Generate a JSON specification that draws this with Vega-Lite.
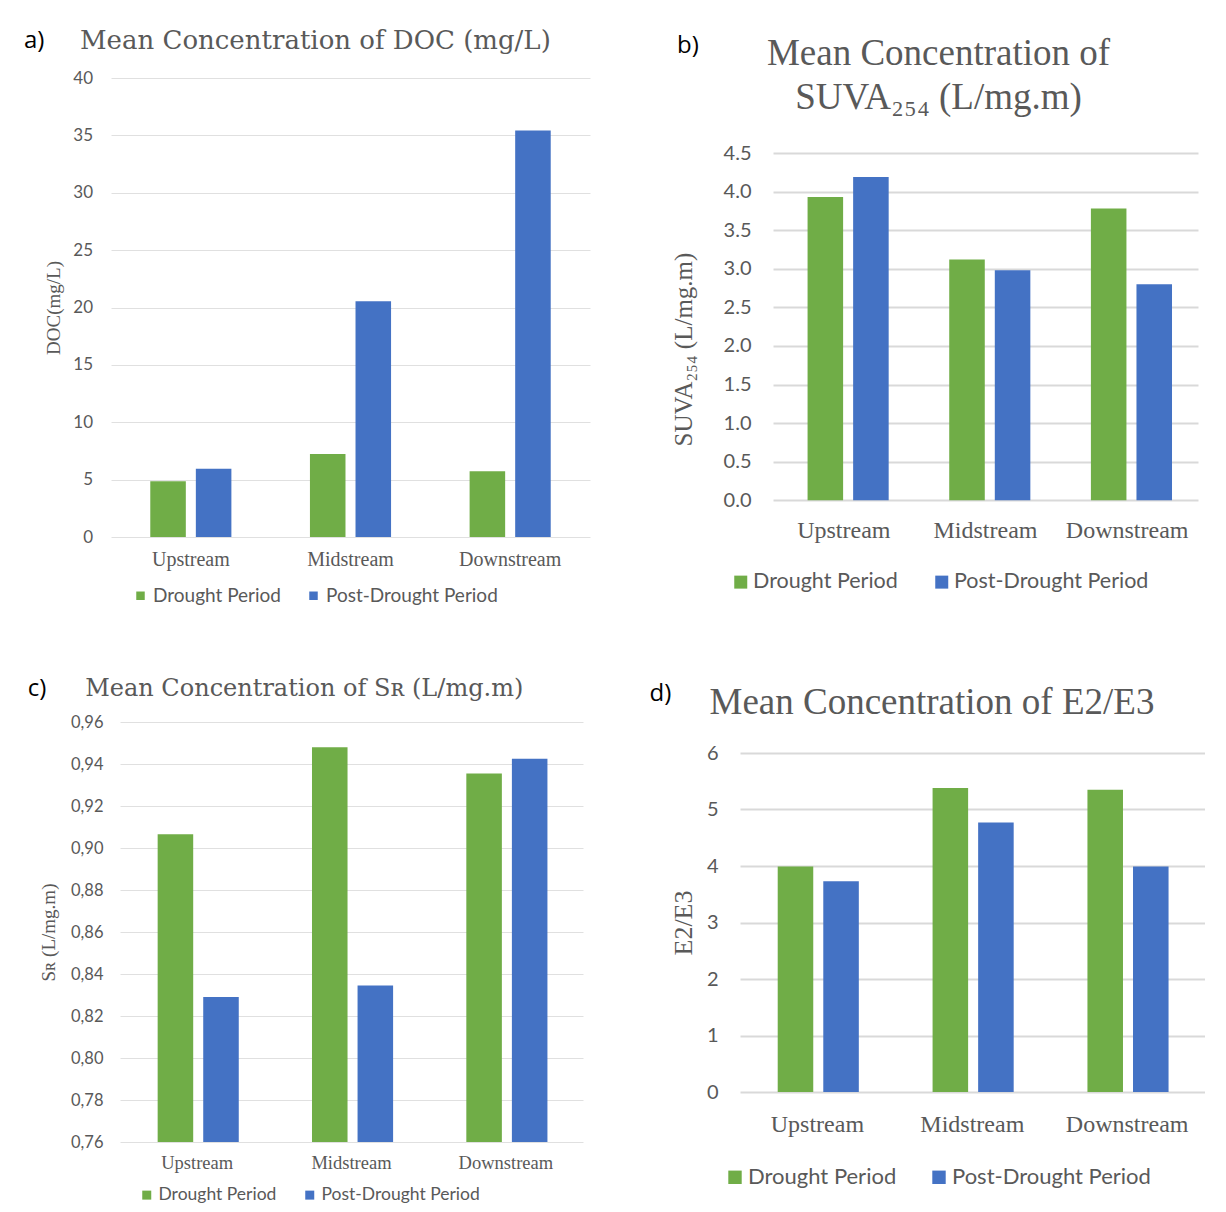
{
  "$schema": "https://vega.github.io/schema/vega-lite/v6.json",
  "background": "white",
  "padding": 0,
  "datasets": {
    "doc": [
      {"site": "Upstream", "period": "Drought Period", "value": 4.86},
      {"site": "Upstream", "period": "Post-Drought Period", "value": 5.95},
      {"site": "Midstream", "period": "Drought Period", "value": 7.24},
      {"site": "Midstream", "period": "Post-Drought Period", "value": 20.55},
      {"site": "Downstream", "period": "Drought Period", "value": 5.73},
      {"site": "Downstream", "period": "Post-Drought Period", "value": 35.42}
    ],
    "suva": [
      {"site": "Upstream", "period": "Drought Period", "value": 3.93},
      {"site": "Upstream", "period": "Post-Drought Period", "value": 4.19},
      {"site": "Midstream", "period": "Drought Period", "value": 3.12},
      {"site": "Midstream", "period": "Post-Drought Period", "value": 2.98},
      {"site": "Downstream", "period": "Drought Period", "value": 3.78},
      {"site": "Downstream", "period": "Post-Drought Period", "value": 2.80}
    ],
    "sr": [
      {"site": "Upstream", "period": "Drought Period", "value": 0.9065},
      {"site": "Upstream", "period": "Post-Drought Period", "value": 0.829},
      {"site": "Midstream", "period": "Drought Period", "value": 0.948},
      {"site": "Midstream", "period": "Post-Drought Period", "value": 0.8345},
      {"site": "Downstream", "period": "Drought Period", "value": 0.9355},
      {"site": "Downstream", "period": "Post-Drought Period", "value": 0.9425}
    ],
    "e2e3": [
      {"site": "Upstream", "period": "Drought Period", "value": 3.99},
      {"site": "Upstream", "period": "Post-Drought Period", "value": 3.73},
      {"site": "Midstream", "period": "Drought Period", "value": 5.38},
      {"site": "Midstream", "period": "Post-Drought Period", "value": 4.77},
      {"site": "Downstream", "period": "Drought Period", "value": 5.35},
      {"site": "Downstream", "period": "Post-Drought Period", "value": 3.99}
    ]
  },
  "columns": 2,
  "spacing": {"row": 10, "column": 10},
  "resolve": {"scale": {"color": "independent"}, "legend": {"color": "independent"}},
  "concat": [
    {
      "spacing": 0,
      "resolve": {"scale": {"color": "independent"}, "legend": {"color": "independent"}},
      "vconcat": [
        {"width": 1, "height": 27.7, "data": {"values": []}, "mark": {"type": "rect", "opacity": 0}},
        {
          "spacing": 0,
          "resolve": {"scale": {"color": "independent"}, "legend": {"color": "independent"}},
          "hconcat": [
            {"width": 23.3, "height": 1, "data": {"values": []}, "mark": {"type": "rect", "opacity": 0}},
            {
              "title": {"text": "a)", "anchor": "start", "frame": "bounds", "font": "Open Sans", "fontSize": 24, "fontWeight": "normal", "color": "#000000", "dx": -20.5, "offset": -25},
              "resolve": {"scale": {"color": "independent"}, "legend": {"color": "independent"}},
              "hconcat": [
                {
                  "width": 479,
                  "height": 459,
                  "title": {"text": "Mean Concentration of DOC (mg/L)", "anchor": "start", "frame": "group", "font": "DejaVu Serif", "fontSize": 26, "fontWeight": "normal", "color": "#595959", "dx": -31, "offset": 15},
                  "data": {"name": "doc"},
                  "mark": {"type": "bar"},
                  "encoding": {
                    "x": {"field": "site", "type": "nominal", "sort": ["Upstream", "Midstream", "Downstream"], "title": null,
                      "scale": {"paddingInner": 0.492, "paddingOuter": 0.246},
                      "axis": {"labelAngle": 0, "labelFont": "Liberation Serif", "labelFontSize": 20, "labelPadding": 12, "labelColor": "#595959", "grid": false, "domain": false, "ticks": false}},
                    "xOffset": {"field": "period", "type": "nominal", "sort": ["Drought Period", "Post-Drought Period"], "scale": {"paddingInner": 0.22, "paddingOuter": 0}},
                    "y": {"field": "value", "type": "quantitative", "scale": {"domain": [0, 40]}, "title": "DOC(mg/L)",
                      "axis": {"values": [0, 5, 10, 15, 20, 25, 30, 35, 40], "labelFont": "Lato", "labelFontSize": 17, "labelPadding": 18.5, "labelColor": "#595959", "titleFont": "Liberation Serif", "titleFontSize": 19, "titleFontWeight": "normal", "titleColor": "#595959", "titleX": -47.5, "titleAngle": 270, "titleBaseline": "bottom", "grid": true, "gridColor": "#e0e0e0", "gridWidth": 1, "domain": false, "ticks": false}},
                    "color": {"field": "period", "type": "nominal", "scale": {"domain": ["Drought Period", "Post-Drought Period"], "range": ["#70AD47", "#4472C4"]},
                      "legend": {"title": null, "orient": "none", "direction": "horizontal", "legendX": 20, "legendY": 508, "symbolType": "square", "symbolSize": 72, "symbolStrokeWidth": 0, "labelFont": "Lato", "labelFontSize": 19, "labelColor": "#595959", "labelOffset": 3, "labelLimit": 400, "columnPadding": 23, "padding": 0}}
                  }
                }
              ]
            }
          ]
        }
      ]
    },
    {
      "spacing": 0,
      "resolve": {"scale": {"color": "independent"}, "legend": {"color": "independent"}},
      "vconcat": [
        {"width": 1, "height": 34, "data": {"values": []}, "mark": {"type": "rect", "opacity": 0}},
        {
          "spacing": 0,
          "resolve": {"scale": {"color": "independent"}, "legend": {"color": "independent"}},
          "hconcat": [
            {"width": 70.7, "height": 1, "data": {"values": []}, "mark": {"type": "rect", "opacity": 0}},
            {
              "title": {"text": "b)", "anchor": "start", "frame": "bounds", "font": "Open Sans", "fontSize": 24, "fontWeight": "normal", "color": "#000000", "dx": 6, "offset": -23},
              "resolve": {"scale": {"color": "independent"}, "legend": {"color": "independent"}},
              "hconcat": [
                {
                  "width": 425,
                  "height": 347.3,
                  "title": {"text": ["Mean Concentration of", "SUVA₂₅₄ (L/mg.m)"], "anchor": "middle", "frame": "group", "font": "Liberation Serif", "fontSize": 37, "lineHeight": 44, "fontWeight": "normal", "color": "#595959", "dx": -47, "offset": 26},
                  "data": {"name": "suva"},
                  "mark": {"type": "bar"},
                  "encoding": {
                    "x": {"field": "site", "type": "nominal", "sort": ["Upstream", "Midstream", "Downstream"], "title": null,
                      "scale": {"paddingInner": 0.488, "paddingOuter": 0.244},
                      "axis": {"labelAngle": 0, "labelFont": "Liberation Serif", "labelFontSize": 24, "labelPadding": 18, "labelColor": "#595959", "grid": false, "domain": false, "ticks": false}},
                    "xOffset": {"field": "period", "type": "nominal", "sort": ["Drought Period", "Post-Drought Period"], "scale": {"paddingInner": 0.2, "paddingOuter": 0}},
                    "y": {"field": "value", "type": "quantitative", "scale": {"domain": [0, 4.5]}, "title": "SUVA₂₅₄ (L/mg.m)",
                      "axis": {"values": [0, 0.5, 1, 1.5, 2, 2.5, 3, 3.5, 4, 4.5], "format": ".1f", "labelFont": "Lato", "labelFontSize": 20, "labelPadding": 22, "labelColor": "#595959", "titleFont": "Liberation Serif", "titleFontSize": 25, "titleFontWeight": "normal", "titleColor": "#595959", "titleX": -77, "titleY": 196, "titleAngle": 270, "titleBaseline": "bottom", "grid": true, "gridColor": "#d9d9d9", "gridWidth": 2, "domain": false, "ticks": false}},
                    "color": {"field": "period", "type": "nominal", "scale": {"domain": ["Drought Period", "Post-Drought Period"], "range": ["#70AD47", "#4472C4"]},
                      "legend": {"title": null, "orient": "none", "direction": "horizontal", "legendX": -43, "legendY": 418, "symbolType": "square", "symbolSize": 169, "symbolStrokeWidth": 0, "labelFont": "Lato", "labelFontSize": 21.5, "labelColor": "#595959", "labelOffset": 1.5, "labelLimit": 400, "columnPadding": 33, "padding": 0}}
                  }
                }
              ]
            }
          ]
        }
      ]
    },
    {
      "spacing": 0,
      "resolve": {"scale": {"color": "independent"}, "legend": {"color": "independent"}},
      "vconcat": [
        {"width": 1, "height": 60.5, "data": {"values": []}, "mark": {"type": "rect", "opacity": 0}},
        {
          "spacing": 0,
          "resolve": {"scale": {"color": "independent"}, "legend": {"color": "independent"}},
          "hconcat": [
            {"width": 27, "height": 1, "data": {"values": []}, "mark": {"type": "rect", "opacity": 0}},
            {
              "title": {"text": "c)", "anchor": "start", "frame": "bounds", "font": "Open Sans", "fontSize": 24, "fontWeight": "normal", "color": "#000000", "dx": -11.3, "offset": -24},
              "resolve": {"scale": {"color": "independent"}, "legend": {"color": "independent"}},
              "hconcat": [
                {
                  "width": 463,
                  "height": 420,
                  "title": {"text": "Mean Concentration of Sʀ (L/mg.m)", "anchor": "start", "frame": "group", "font": "DejaVu Serif", "fontSize": 24, "fontWeight": "normal", "color": "#595959", "dx": -34.8, "offset": 13},
                  "data": {"name": "sr"},
                  "mark": {"type": "bar"},
                  "encoding": {
                    "x": {"field": "site", "type": "nominal", "sort": ["Upstream", "Midstream", "Downstream"], "title": null,
                      "scale": {"paddingInner": 0.488, "paddingOuter": 0.244},
                      "axis": {"labelAngle": 0, "labelFont": "Liberation Serif", "labelFontSize": 18.5, "labelPadding": 11, "labelColor": "#595959", "grid": false, "domain": false, "ticks": false}},
                    "xOffset": {"field": "period", "type": "nominal", "sort": ["Drought Period", "Post-Drought Period"], "scale": {"paddingInner": 0.2, "paddingOuter": 0}},
                    "y": {"field": "value", "type": "quantitative", "scale": {"domain": [0.76, 0.96], "zero": false}, "title": "Sʀ (L/mg.m)",
                      "axis": {"values": [0.76, 0.78, 0.8, 0.82, 0.84, 0.86, 0.88, 0.9, 0.92, 0.94, 0.96], "labelExpr": "replace(format(datum.value, '.2f'), '.', ',')", "labelFont": "Lato", "labelFontSize": 16.5, "labelPadding": 17, "labelColor": "#595959", "titleFont": "Liberation Serif", "titleFontSize": 19, "titleFontWeight": "normal", "titleColor": "#595959", "titleX": -62, "titleAngle": 270, "titleBaseline": "bottom", "grid": true, "gridColor": "#e0e0e0", "gridWidth": 1, "domain": false, "ticks": false}},
                    "y2": {"datum": 0.76},
                    "color": {"field": "period", "type": "nominal", "scale": {"domain": ["Drought Period", "Post-Drought Period"], "range": ["#70AD47", "#4472C4"]},
                      "legend": {"title": null, "orient": "none", "direction": "horizontal", "legendX": 18, "legendY": 464, "symbolType": "square", "symbolSize": 81, "symbolStrokeWidth": 0, "labelFont": "Lato", "labelFontSize": 17.5, "labelColor": "#595959", "labelOffset": 3, "labelLimit": 400, "columnPadding": 24, "padding": 0}}
                  }
                }
              ]
            }
          ]
        }
      ]
    },
    {
      "spacing": 0,
      "resolve": {"scale": {"color": "independent"}, "legend": {"color": "independent"}},
      "vconcat": [
        {"width": 1, "height": 64.8, "data": {"values": []}, "mark": {"type": "rect", "opacity": 0}},
        {
          "spacing": 0,
          "resolve": {"scale": {"color": "independent"}, "legend": {"color": "independent"}},
          "hconcat": [
            {"width": 49, "height": 1, "data": {"values": []}, "mark": {"type": "rect", "opacity": 0}},
            {
              "title": {"text": "d)", "anchor": "start", "frame": "bounds", "font": "Open Sans", "fontSize": 24, "fontWeight": "normal", "color": "#000000", "dx": -21, "offset": -22},
              "resolve": {"scale": {"color": "independent"}, "legend": {"color": "independent"}},
              "hconcat": [
                {
                  "width": 464.6,
                  "height": 339,
                  "title": {"text": "Mean Concentration of E2/E3", "anchor": "start", "frame": "group", "font": "Liberation Serif", "fontSize": 37, "fontWeight": "normal", "color": "#595959", "dx": -30.5, "offset": 21.5},
                  "data": {"name": "e2e3"},
                  "mark": {"type": "bar"},
                  "encoding": {
                    "x": {"field": "site", "type": "nominal", "sort": ["Upstream", "Midstream", "Downstream"], "title": null,
                      "scale": {"paddingInner": 0.487, "paddingOuter": 0.2435},
                      "axis": {"labelAngle": 0, "labelFont": "Liberation Serif", "labelFontSize": 24, "labelPadding": 20, "labelColor": "#595959", "grid": false, "domain": false, "ticks": false}},
                    "xOffset": {"field": "period", "type": "nominal", "sort": ["Drought Period", "Post-Drought Period"], "scale": {"paddingInner": 0.2, "paddingOuter": 0}},
                    "y": {"field": "value", "type": "quantitative", "scale": {"domain": [0, 6]}, "title": "E2/E3",
                      "axis": {"values": [0, 1, 2, 3, 4, 5, 6], "labelFont": "Lato", "labelFontSize": 20, "labelPadding": 22, "labelColor": "#595959", "titleFont": "Liberation Serif", "titleFontSize": 26, "titleFontWeight": "normal", "titleColor": "#595959", "titleX": -43.5, "titleAngle": 270, "titleBaseline": "bottom", "grid": true, "gridColor": "#d9d9d9", "gridWidth": 2, "domain": false, "ticks": false}},
                    "color": {"field": "period", "type": "nominal", "scale": {"domain": ["Drought Period", "Post-Drought Period"], "range": ["#70AD47", "#4472C4"]},
                      "legend": {"title": null, "orient": "none", "direction": "horizontal", "legendX": -16, "legendY": 413.3, "symbolType": "square", "symbolSize": 180, "symbolStrokeWidth": 0, "labelFont": "Lato", "labelFontSize": 22, "labelColor": "#595959", "labelOffset": 2, "labelLimit": 400, "columnPadding": 31, "padding": 0}}
                  }
                }
              ]
            }
          ]
        }
      ]
    }
  ],
  "config": {
    "view": {"stroke": null},
    "axis": {"domain": false, "ticks": false}
  }
}
